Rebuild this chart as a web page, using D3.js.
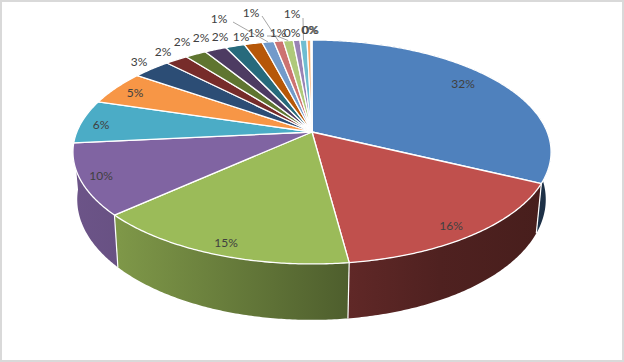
<!DOCTYPE html>
<html>
<head>
<meta charset="utf-8">
<script src="https://cdn.jsdelivr.net/npm/d3@7"></script>
<style>
    html, body { margin: 0; padding: 0; background: #fff; }
    svg { display: block; }
    .pctLabel { font-family: Lato, "Open Sans", sans-serif; font-size: 12px; fill: #404040; text-anchor: middle; }
</style>
</head>
<body>
<div id="chart"></div>
<script>
// share of each slice in percent, clockwise from 12 o'clock
const values = [32.2, 15.7, 15.3, 10.2, 6.3, 5.0, 3.0, 1.8, 1.7, 1.75, 1.55, 1.45, 0.95, 0.75, 0.8, 0.54, 0.56, 0.32, 0.04, 0.04];
const colors = ["#4f81bd", "#c0504d", "#9bbb59", "#8064a2", "#4bacc6", "#f79646",
    "#2c4d75", "#772c2a", "#5f7530", "#4d3b62", "#276a7c", "#b65708",
    "#729aca", "#cd7371", "#afc97a", "#9983b5", "#6fbdd1", "#f9ab6b", "#3a679c", "#9e3d3b"];

const WIDTH = 624, HEIGHT = 362;

// label centres, same order as values; big slices sit inside, small ones above the rim
const labelAt = [[463, 83], [451, 225], [226, 242], [101, 175], [101, 124], [135, 92],
    [139, 61], [163, 51], [182, 41], [201, 37], [220, 36], [241, 36],
    [219, 18], [251, 12], [256, 32], [278, 32], [292, 13], [292, 32], [309.5, 29], [310.5, 29]];
// which slices get a leader line
const leaderFrom = { 12: [233, 22], 13: [262, 16], 14: [267, 36], 16: [303, 18] };

// perspective of the disc: tilt makes the front larger than the back
const CX = 312, APEX_Y = 132;
const TILT = 0.1786, RX = 235.2, RY = 108.4;

// bottom disc: same circle, pushed down and slightly smaller
const BOTTOM_CX = 311.5, BOTTOM_SX = 0.98, BOTTOM_SY = 1.075, BOTTOM_Y = 178;

function rimTop(a) {
    const w = 1 + TILT * Math.cos(a);
    return [CX + RX * Math.sin(a) / w, APEX_Y - RY * Math.cos(a) / w];
}

function rimBottom(a) {
    const p = rimTop(a);
    return [BOTTOM_CX + (p[0] - CX) * BOTTOM_SX, BOTTOM_Y + (p[1] - APEX_Y) * BOTTOM_SY];
}

function sampleAngles(a0, a1) {
    const n = Math.max(2, Math.ceil((a1 - a0) / 0.01));
    return d3.range(n + 1).map(i => a0 + (a1 - a0) * i / n);
}

const svg = d3.select("#chart").append("svg").attr("width", WIDTH).attr("height", HEIGHT);
const defs = svg.append("defs");
const line = d3.line();

svg.append("rect")
    .attr("x", 1).attr("y", 1)
    .attr("width", WIDTH - 2).attr("height", HEIGHT - 2)
    .attr("fill", "#fff")
    .attr("stroke", "#d9d9d9")
    .attr("stroke-width", 2);

const arcs = d3.pie().sort(null).value(d => d)(values);

// walls are lit from the left, dark towards the right
const shadeStops = [74, 120, 349, 440, 551];
const shade = d3.scaleLinear().domain(shadeStops).range([0.84, 0.81, 0.50, 0.41, 0.37]);

arcs.forEach((d, i) => {
    const grad = defs.append("linearGradient")
        .attr("id", "wall" + i)
        .attr("gradientUnits", "userSpaceOnUse")
        .attr("x1", 74).attr("x2", 551)
        .attr("y1", 0).attr("y2", 0);
    shadeStops.forEach(x => {
        const c = d3.rgb(colors[i]);
        const k = shade(x);
        grad.append("stop")
            .attr("offset", (x - 74) / (551 - 74))
            .attr("stop-color", d3.rgb(c.r * k, c.g * k, c.b * k).formatHex());
    });
});

const walls = svg.append("g").attr("id", "walls");
arcs.filter(d => d.startAngle < Math.PI * 1.4).forEach(d => {
    const angles = sampleAngles(d.startAngle, d.endAngle);
    const pts = angles.map(rimTop).concat(angles.slice().reverse().map(rimBottom));
    walls.append("path")
        .attr("d", line(pts) + "Z")
        .attr("fill", "url(#wall" + d.index + ")");
});

// white seams where two slices meet on the visible side
arcs.forEach(d => {
    const a = d.startAngle;
    if (a > Math.PI * 0.55 && a < Math.PI * 1.4) {
        walls.append("path")
            .attr("d", line([rimTop(a), rimBottom(a)]))
            .attr("stroke", "#fff")
            .attr("stroke-width", 1.2)
            .attr("fill", "none");
    }
});

const faces = svg.append("g").attr("id", "faces");
arcs.forEach((d, i) => {
    const pts = [[CX, APEX_Y]].concat(sampleAngles(d.startAngle, d.endAngle).map(rimTop));
    faces.append("path")
        .attr("d", line(pts) + "Z")
        .attr("fill", colors[i])
        .attr("stroke", "#fff")
        .attr("stroke-width", 1.3)
        .attr("stroke-linejoin", "round");
});

const leaders = svg.append("g").attr("id", "leaders");
Object.keys(leaderFrom).forEach(k => {
    const d = arcs[+k];
    const end = rimTop((d.startAngle + d.endAngle) / 2);
    const start = leaderFrom[k];
    leaders.append("path")
        .attr("d", line([start, [start[0] + (k == 14 ? 10 : 0), start[1]], end]))
        .attr("fill", "none")
        .attr("stroke", "#a6a6a6")
        .attr("stroke-width", 1);
});

svg.append("g").attr("id", "labels")
    .selectAll("text")
    .data(arcs)
    .enter()
    .append("text")
    .attr("class", "pctLabel")
    .attr("x", (d, i) => labelAt[i][0])
    .attr("y", (d, i) => labelAt[i][1] + 4.5)
    .text(d => d3.format(".0f")(d.value) + "%");
</script>
</body>
</html>
